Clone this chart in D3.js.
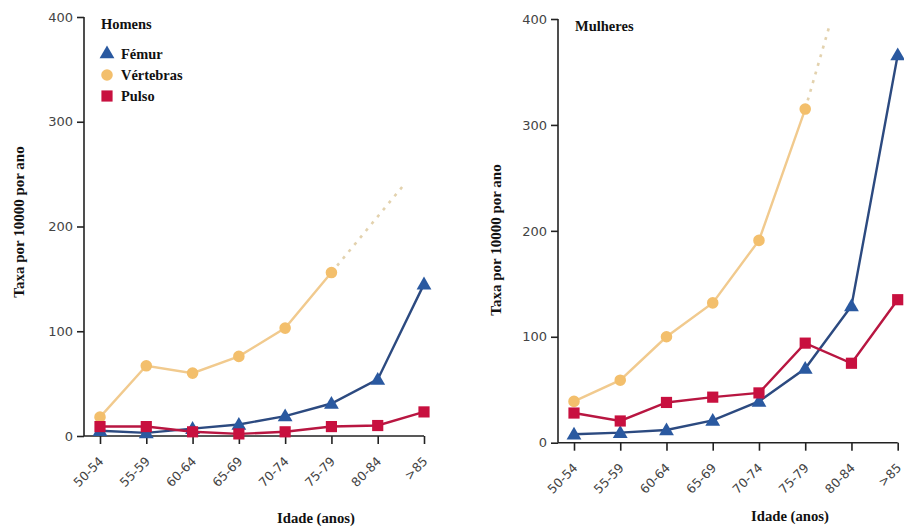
<!DOCTYPE html>
<html>
<head>
<meta charset="utf-8">
<script src="https://cdn.jsdelivr.net/npm/d3@7"></script>
<style>
  html, body { margin: 0; padding: 0; background: #fff; }
  svg { display: block; }
  .serif { font-family: "Liberation Serif", "Times New Roman", serif; font-weight: bold; fill: #111; }
  .tick text { font-family: "DejaVu Sans", Verdana, sans-serif; fill: #444; }
</style>
</head>
<body>
<script>
// Age groups (x categories) and y ticks
const ageGroups = ["50-54", "55-59", "60-64", "65-69", "70-74", "75-79", "80-84", ">85"];
const yTicks = [0, 100, 200, 300, 400];

// Incidence per 10000 per year — men
const menFemur     = [5, 3, 7, 11, 19, 31, 54, 145];
const menVertebrae = [18, 67, 60, 76, 103, 156];
const menWrist     = [9, 9, 4, 2, 4, 9, 10, 23];
// Projected vertebral trend (dotted): position on the age axis and value
const menVertebraeTrend = [[5, 156], [6.57, 240]];

// Incidence per 10000 per year — women
const womenFemur     = [8, 9.5, 12, 21, 39, 70, 129, 366];
const womenVertebrae = [39, 59, 100, 132, 191, 315];
const womenWrist     = [28, 20.5, 38, 43, 47, 94, 75, 135];
const womenVertebraeTrend = [[5, 315], [5.52, 393]];

const series = [
  { name: "Vértebras", key: "vert", marker: "circle", fill: "#f3bf6c", stroke: "#f1ca8e" },
  { name: "Fémur",     key: "femur", marker: "triangle", fill: "#2a59a0", stroke: "#2c4a80" },
  { name: "Pulso",     key: "wrist", marker: "square", fill: "#c8103f", stroke: "#b81641" }
];
const legendOrder = ["femur", "vert", "wrist"];

const W = 904, H = 529;
const svg = d3.select("body").append("svg").attr("width", W).attr("height", H);

const panels = [
  { title: "Homens", legend: true, axisX: 84, x0: 100, x1: 424, yTop: 17, yBottom: 436,
    data: { femur: menFemur, vert: menVertebrae, wrist: menWrist }, trend: menVertebraeTrend,
    yTitleX: 19, yTitleY: 222, xTitleX: 316, xTitleY: 523 },
  { title: "Mulheres", legend: false, axisX: 558, x0: 574, x1: 897.7, yTop: 19, yBottom: 442.7,
    data: { femur: womenFemur, vert: womenVertebrae, wrist: womenWrist }, trend: womenVertebraeTrend,
    yTitleX: 496, yTitleY: 240, xTitleX: 790, xTitleY: 521 }
];

function symbolFor(kind) {
  if (kind === "triangle") return d3.symbol().type(d3.symbolTriangle).size(95);
  if (kind === "square") return d3.symbol().type(d3.symbolSquare).size(125);
  return d3.symbol().type(d3.symbolCircle).size(105);
}

panels.forEach(p => {
  const x = d3.scaleLinear().domain([0, ageGroups.length - 1]).range([p.x0, p.x1]);
  const y = d3.scaleLinear().domain([0, 400]).range([p.yBottom, p.yTop]);
  const g = svg.append("g");

  // Y axis
  const yAxis = d3.axisLeft(y).tickValues(yTicks).tickSize(7).tickPadding(4);
  const ya = g.append("g").attr("transform", `translate(${p.axisX},0)`).call(yAxis);
  ya.select(".domain").attr("d", `M0,${p.yTop}V${p.yBottom}`);
  ya.selectAll("line, path").attr("stroke", "#222").attr("stroke-width", 1.6);
  ya.selectAll("text").attr("font-size", 13);

  // X axis
  const xAxis = d3.axisBottom(x).tickValues(d3.range(ageGroups.length))
    .tickFormat(i => ageGroups[i]).tickSize(8).tickPadding(6);
  const xa = g.append("g").attr("transform", `translate(0,${p.yBottom})`).call(xAxis);
  xa.select(".domain").attr("d", `M${p.axisX},0H${p.x1}`);
  xa.selectAll("line, path").attr("stroke", "#222").attr("stroke-width", 1.6);
  xa.selectAll("text")
    .attr("font-size", 12.5)
    .attr("text-anchor", "end")
    .attr("y", 0)
    .attr("dx", 0)
    .attr("dy", 0)
    .attr("transform", "translate(4,26) rotate(-45)");

  // Axis titles
  g.append("text").attr("class", "serif")
    .attr("transform", `translate(${p.yTitleX},${p.yTitleY}) rotate(-90)`)
    .attr("text-anchor", "middle").attr("dy", "0.35em")
    .attr("font-size", 15).text("Taxa por 10000 por ano");
  g.append("text").attr("class", "serif")
    .attr("x", p.xTitleX).attr("y", p.xTitleY)
    .attr("text-anchor", "middle").attr("font-size", 14.7).text("Idade (anos)");

  // Panel title
  g.append("text").attr("class", "serif")
    .attr("x", p.x0 + 1).attr("y", p.yTop + 12)
    .attr("font-size", 14.5).text(p.title);

  const line = d3.line().x(d => x(d[0])).y(d => y(d[1]));

  // Dotted projection of vertebral fractures
  g.append("path")
    .attr("d", line(p.trend))
    .attr("fill", "none")
    .attr("stroke", "#e3d2ae")
    .attr("stroke-width", 2.6)
    .attr("stroke-dasharray", "3,6");

  series.forEach(s => {
    const pts = p.data[s.key].map((v, i) => [i, v]);
    g.append("path")
      .attr("d", line(pts))
      .attr("fill", "none")
      .attr("stroke", s.stroke)
      .attr("stroke-width", 2.4);
    g.selectAll(null).data(pts).enter().append("path")
      .attr("d", symbolFor(s.marker))
      .attr("transform", d => `translate(${x(d[0])},${y(d[1]) + (s.marker === "triangle" ? 1 : 0)})`)
      .attr("fill", s.fill);
  });

  // Legend
  if (p.legend) {
    legendOrder.forEach((k, i) => {
      const s = series.find(t => t.key === k);
      const ly = 54 + i * 21;
      g.append("path").attr("d", symbolFor(s.marker))
        .attr("transform", `translate(${p.x0 + 7},${ly})`).attr("fill", s.fill);
      g.append("text").attr("class", "serif")
        .attr("x", p.x0 + 21).attr("y", ly).attr("dy", "0.35em")
        .attr("font-size", 14.4).text(s.name);
    });
  }
});
</script>
</body>
</html>
